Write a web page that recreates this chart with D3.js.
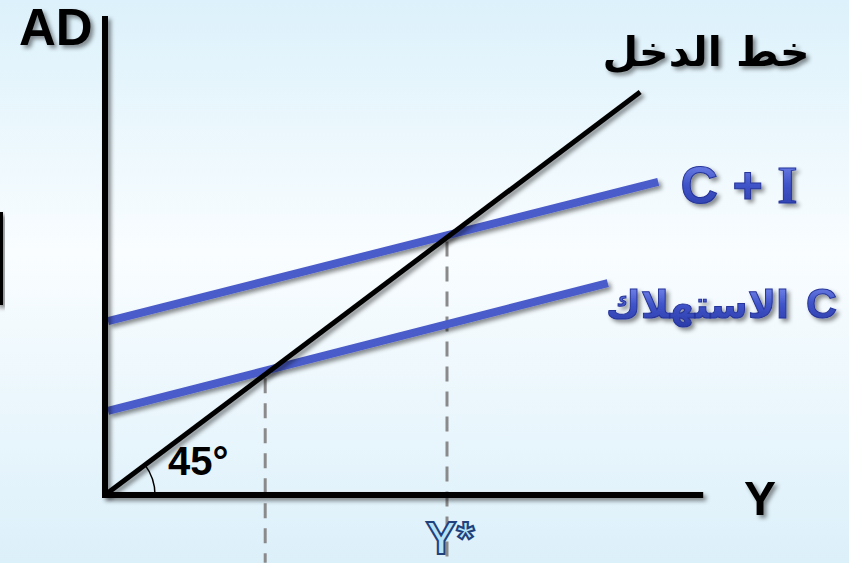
<!DOCTYPE html>
<html><head><meta charset="utf-8">
<script src="https://cdn.jsdelivr.net/npm/d3@7"></script>
<style>html,body{margin:0;padding:0;overflow:hidden}svg{display:block}</style>
</head><body>
<script>
// ---- data (economic units) ----
const incomeLine = [[0, 0], [89.2, 89.2]];          // 45° line  (خط الدخل)
const consumption = [[0.5, 18.6], [83.8, 46.9]];     // C
const consInvest = [[0.5, 38.5], [92.2, 69.3]];      // C + I
const dashedAt = [26.7, 57.0];                       // vertical guides
const axisLabels = {x: "Y", y: "AD"};
const lineLabels = ["خط الدخل", "C + I", "C الاستهلاك"];
const eqLabel = "Y*";
const angleLabel = "45°";

const W = 849, H = 563;
const x = d3.scaleLinear().domain([0, 100]).range([105, 705]);
const y = d3.scaleLinear().domain([0, 106]).range([495, 16]);

const svg = d3.select("body").append("svg").attr("width", W).attr("height", H);
const defs = svg.append("defs");
const bg = defs.append("linearGradient").attr("id", "bg").attr("x1", 0).attr("y1", 0).attr("x2", 0).attr("y2", 1);
bg.append("stop").attr("offset", "0%").attr("stop-color", "#dcf1fb");
bg.append("stop").attr("offset", "45%").attr("stop-color", "#f9fdff");
bg.append("stop").attr("offset", "100%").attr("stop-color", "#dcf0fa");
const bl = defs.append("linearGradient").attr("id", "bluetxt").attr("x1", 0).attr("y1", 0).attr("x2", 0).attr("y2", 1);
bl.append("stop").attr("offset", "0%").attr("stop-color", "#7d8ff0");
bl.append("stop").attr("offset", "50%").attr("stop-color", "#3f53c8");
bl.append("stop").attr("offset", "100%").attr("stop-color", "#2c3ca8");
const f = defs.append("filter").attr("id", "sh").attr("x", "-20%").attr("y", "-20%").attr("width", "140%").attr("height", "140%");
f.append("feDropShadow").attr("dx", 3).attr("dy", 3).attr("stdDeviation", 2).attr("flood-color", "#000").attr("flood-opacity", 0.45);

svg.append("rect").attr("width", W).attr("height", H).attr("fill", "url(#bg)");

// left decorative bar
svg.append("rect").attr("x", -4).attr("y", 212).attr("width", 7).attr("height", 93).attr("fill", "#000").attr("filter", "url(#sh)");

const line = d3.line().x(d => x(d[0])).y(d => y(d[1]));

// dashed guides
svg.selectAll("line.guide").data(dashedAt).join("line")
  .attr("x1", d => x(d)).attr("x2", d => x(d))
  .attr("y1", d => y(d) + 4).attr("y2", y(-15))
  .attr("stroke", "#8a8a8a").attr("stroke-width", 3).attr("stroke-dasharray", "15 10");

// blue lines
[consumption, consInvest].forEach(p => {
  svg.append("path").attr("d", line(p)).attr("stroke", "#4a5bc9").attr("stroke-width", 8)
    .attr("fill", "none").attr("filter", "url(#sh)");
});

// axes
svg.append("path").attr("d", line([[0, 106], [0, 0], [99.7, 0]]))
  .attr("stroke", "#000").attr("stroke-width", 6).attr("fill", "none").attr("filter", "url(#sh)");

// 45 line
svg.append("path").attr("d", line(incomeLine)).attr("stroke", "#000").attr("stroke-width", 5)
  .attr("fill", "none").attr("filter", "url(#sh)");

// angle arc
const ang = Math.atan2(y(0) - y(incomeLine[1][1]), x(incomeLine[1][0]) - x(0));
const r = 50;
svg.append("path")
  .attr("d", `M${x(0) + r},${y(0)} A${r},${r} 0 0 0 ${x(0) + r * Math.cos(ang)},${y(0) - r * Math.sin(ang)}`)
  .attr("stroke", "#000").attr("stroke-width", 1.5).attr("fill", "none");

// texts
svg.append("text").attr("x", 19).attr("y", 45).text(axisLabels.y)
  .attr("font-family", "Liberation Sans, Arial, sans-serif").attr("font-weight", "bold").attr("font-size", 51)
  .attr("filter", "url(#sh)");
svg.append("text").attr("x", 760).attr("y", 515).attr("text-anchor", "middle").text(axisLabels.x)
  .attr("font-family", "Liberation Sans, Arial, sans-serif").attr("font-weight", "bold").attr("font-size", 48)
  .attr("filter", "url(#sh)");
svg.append("text").attr("x", 168).attr("y", 475).text(angleLabel)
  .attr("font-family", "Liberation Sans, Arial, sans-serif").attr("font-weight", "bold").attr("font-size", 40);

svg.append("text").attr("x", 706).attr("y", 66).attr("text-anchor", "middle").attr("direction", "rtl")
  .text(lineLabels[0]).attr("font-family", "DejaVu Sans").attr("font-weight", "bold").attr("font-size", 41)
  .attr("filter", "url(#sh)");

const blueStyle = sel => sel.attr("fill", "url(#bluetxt)").attr("stroke", "#26349a")
  .attr("stroke-width", 1).attr("filter", "url(#sh)");

const ci = svg.append("text").attr("x", 739).attr("y", 203).attr("text-anchor", "middle")
  .attr("font-family", "Liberation Sans, Arial, sans-serif").attr("font-weight", "bold").attr("font-size", 52)
  .call(blueStyle);
const parts = lineLabels[1].split("I");
ci.append("tspan").text(parts[0]);
ci.append("tspan").text("I").attr("font-family", "Liberation Serif, serif");

const cLab = lineLabels[2].split(" ");
svg.append("text").attr("x", 837).attr("y", 318).attr("text-anchor", "end").text(cLab[0])
  .attr("font-family", "Liberation Sans, Arial, sans-serif").attr("font-weight", "bold").attr("font-size", 43)
  .call(blueStyle);
svg.append("text").attr("x", 789).attr("y", 318).attr("text-anchor", "end")
  .text(cLab.slice(1).join(" ")).attr("font-family", "DejaVu Sans").attr("font-weight", "bold").attr("font-size", 38)
  .call(blueStyle);

svg.append("text").attr("x", 450).attr("y", 554).attr("text-anchor", "middle").text(eqLabel)
  .attr("font-family", "Liberation Sans, Arial, sans-serif").attr("font-weight", "bold").attr("font-size", 46)
  .attr("fill", "#b5e3fa").attr("stroke", "#22407a").attr("stroke-width", 2);
</script>
</body></html>
